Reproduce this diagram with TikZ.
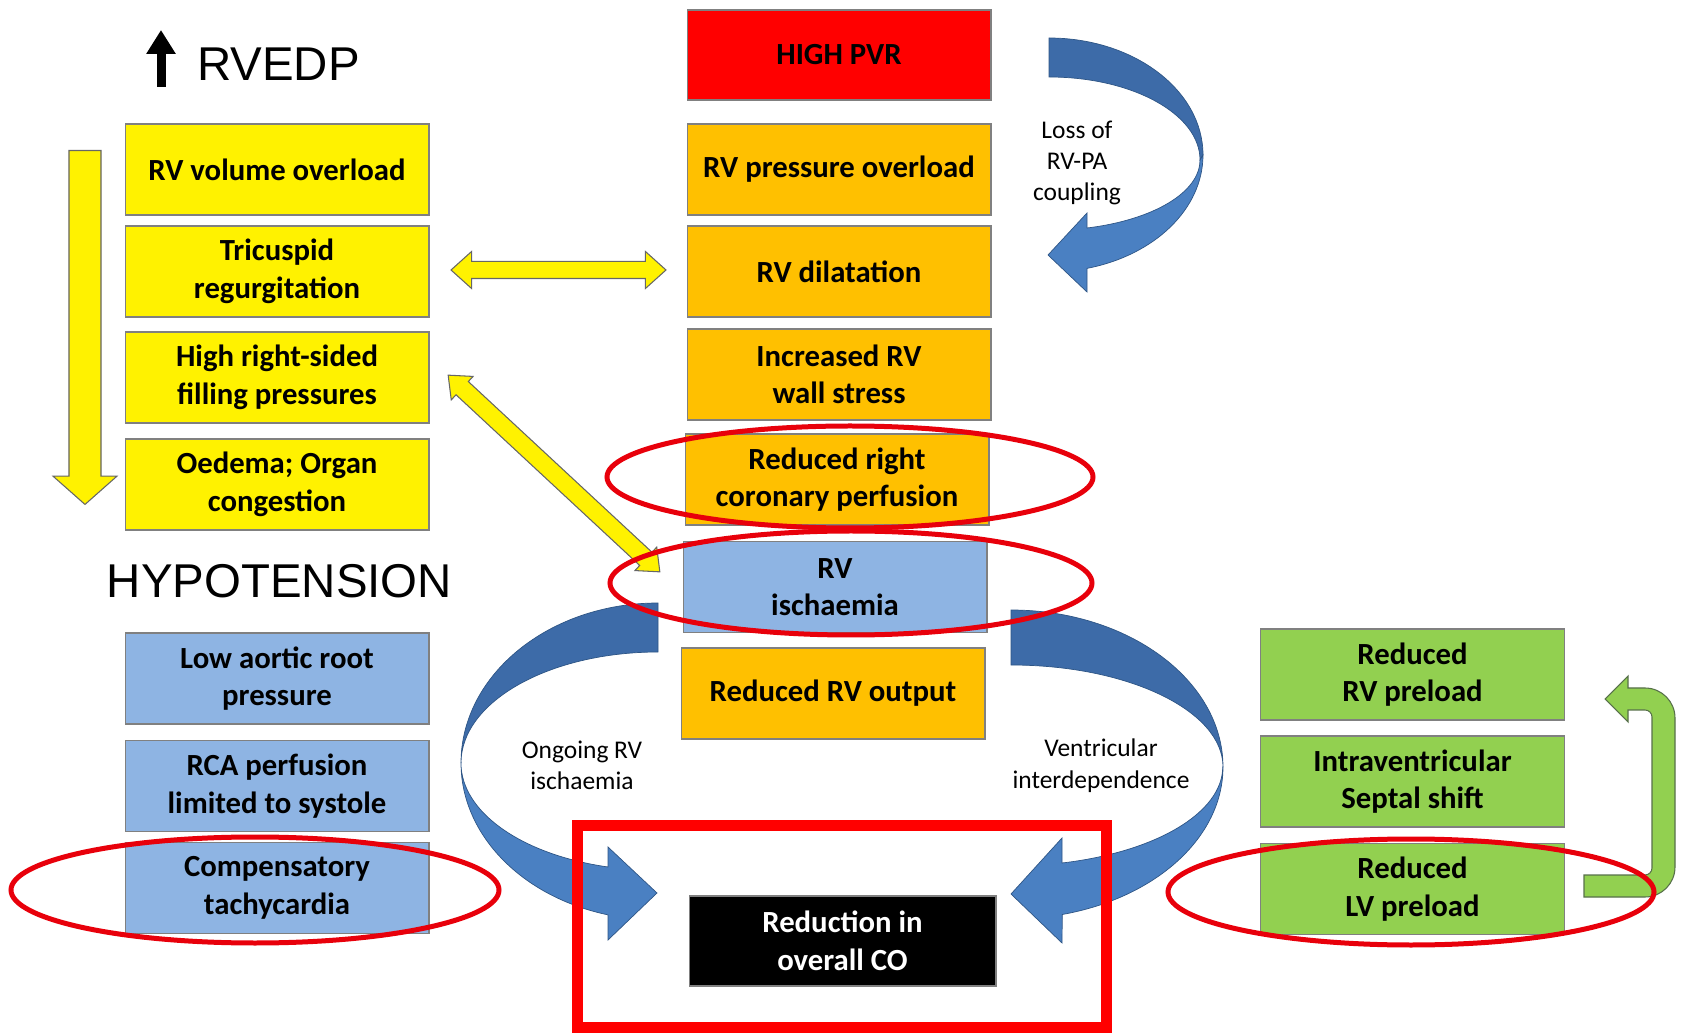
\documentclass[tikz,border=0pt]{standalone}
\usepackage{fontspec}
\setmainfont{Carlito}
\newfontfamily\headfont{Liberation Sans}
\usetikzlibrary{arrows.meta, shapes.arrows}

\definecolor{ambre}{HTML}{FFC000}
\definecolor{paleblue}{HTML}{8EB4E3}
\definecolor{leafgreen}{HTML}{92D050}
\definecolor{leafedge}{HTML}{57704A}
\definecolor{curvedark}{HTML}{3D6BA8}
\definecolor{curvelight}{HTML}{4A80C2}
\definecolor{curveedge}{HTML}{2E5585}
\definecolor{ringred}{HTML}{E8000B}

\tikzset{
  cell/.style={draw=gray, line width=0.6pt, minimum width=6.08cm, minimum height=1.82cm,
    align=center, inner sep=2pt, font=\fontsize{17.5}{21.3}\selectfont\bfseries},
  ybox/.style={cell, fill=yellow},
  obox/.style={cell, fill=ambre},
  bbox/.style={cell, fill=paleblue},
  gbox/.style={cell, fill=leafgreen},
  ring/.style={draw=ringred, line width=0.1cm},
  curvelbl/.style={align=center, font=\fontsize{14.5}{17.9}\selectfont},
  headline/.style={font=\headfont\fontsize{27}{31}\selectfont},
  yarrow/.style={fill=yellow, draw=gray!80!black, line width=0.6pt, inner sep=0pt},
  bandedge/.style={draw=curveedge, line width=0.4pt}
}

\begin{document}
\begin{tikzpicture}[x=0.02cm, y=-0.02cm]
    \useasboundingbox (0,0) rectangle (1681,1033);

    % --- Left column: RVEDP ---
    \node[headline, anchor=west] (rvedp) at (191,64) {RVEDP};
    \coordinate (upfoot) at (161,87);
    \coordinate (uptip) at (161,30);
    \draw[line width=0.18cm, -{Triangle[width=0.56cm, length=0.48cm]}] (upfoot) -- (uptip);

    \node[ybox] (vol)  at (277,169.5) {RV volume overload};
    \node[ybox] (tric) at (277,271.5) {Tricuspid\\regurgitation};
    \node[ybox] (fill) at (277,377.5) {High right-sided\\filling pressures};
    \node[ybox] (oed)  at (277,484.5) {Oedema; Organ\\congestion};

    \node[yarrow, single arrow, rotate=-90, anchor=tail, text height=0.31cm, text depth=0.31cm,
      minimum height=7.08cm, single arrow head extend=0.32cm, single arrow tip angle=97]
      (downarr) at (85,150) {};

    % --- Left column: hypotension ---
    \node[headline] (hypo) at (279.5,581) {HYPOTENSION};
    \node[bbox] (aortic) at (277,678.5) {Low aortic root\\pressure};
    \node[bbox] (rca)    at (277,786)   {RCA perfusion\\limited to systole};
    \node[bbox] (tachy)  at (277,888)   {Compensatory\\tachycardia};

    % --- Centre column ---
    \node[cell, fill=red, minimum height=1.8cm] (pvr) at (839,55) {HIGH PVR};
    \node[obox] (press) at (839,169.5) {RV pressure overload};
    \node[obox] (dilat) at (839,271.5) {RV dilatation};
    \node[obox] (wall)  at (839,374.5) {Increased RV\\wall stress};
    \node[obox] (coron) at (837,479.5) {Reduced right\\coronary perfusion};
    \node[bbox] (isch)  at (835,587)   {RV\\ischaemia};
    \node[obox] (rvout) at (833,693.5) {Reduced RV output};
    \node[cell, fill=black, text=white, minimum width=6.14cm, minimum height=1.8cm]
      (co) at (842.5,941) {Reduction in\\overall CO};

    % --- Right column ---
    \node[gbox] (rvpre)  at (1412.5,674.5) {Reduced\\RV preload};
    \node[gbox] (septal) at (1412.5,781.5) {Intraventricular\\Septal shift};
    \node[gbox] (lvpre)  at (1412.5,889)   {Reduced\\LV preload};

    % --- Yellow double arrows ---
    \node[yarrow, double arrow, text height=0.16cm, text depth=0.16cm, minimum height=4.3cm,
      double arrow head extend=0.2cm, double arrow tip angle=84]
      (tricarr) at (558.5,270) {};
    \node[yarrow, double arrow, rotate=-42.9, text height=0.17cm, text depth=0.17cm,
      minimum height=5.78cm, double arrow head extend=0.14cm, double arrow tip angle=80]
      (diagarr) at (554,473.5) {};

    % --- Loss of RV-PA coupling ---
    \fill[curvedark, bandedge] (1049,38) arc[start angle=-90, end angle=0, x radius=154, y radius=117]
      -- (1200,160) arc[start angle=0, end angle=-90, x radius=151, y radius=83] -- cycle;
    \fill[curvelight, bandedge] (1203,155) arc[start angle=0, end angle=75.7, x radius=154, y radius=117]
      -- (1087,292) -- (1048,255) -- (1087,213) -- (1087,228)
      arc[start angle=75.4, end angle=0, x radius=151, y radius=70] -- cycle;
    \node[curvelbl] (coupling) at (1077,163) {Loss of\\RV-PA\\coupling};

    % --- Ongoing RV ischaemia ---
    \fill[curvedark, bandedge] (658,603) arc[start angle=-90, end angle=-180, x radius=197, y radius=160]
      arc[start angle=180, end angle=270, x radius=197, y radius=111] -- cycle;
    \fill[curvelight, bandedge] (461,763) arc[start angle=180, end angle=104.7, x radius=197, y radius=157]
      -- (608,940) -- (657,893) -- (608,847) -- (608,867)
      arc[start angle=104.7, end angle=180, x radius=197, y radius=107.5] -- cycle;
    \node[curvelbl] (ongoing) at (582,765.5) {Ongoing RV\\ischaemia};

    % --- Ventricular interdependence ---
    \fill[curvedark, bandedge] (1011,610) arc[start angle=-90, end angle=0, x radius=212, y radius=157]
      arc[start angle=0, end angle=-90, x radius=212, y radius=102] -- cycle;
    \fill[curvelight, bandedge] (1223,767) arc[start angle=0, end angle=76, x radius=212, y radius=152]
      -- (1062,943) -- (1011,894) -- (1062,838) -- (1062,863)
      arc[start angle=76, end angle=0, x radius=212, y radius=99] -- cycle;
    \node[curvelbl] (interdep) at (1101,765.5) {Ventricular\\interdependence};

    % --- Green return arrow ---
    \filldraw[fill=leafgreen, draw=leafedge, line width=0.6pt] (1584,897) -- (1645,897)
      arc[start angle=90, end angle=0, radius=30] -- (1675,718)
      arc[start angle=0, end angle=-90, radius=30] -- (1628,688) -- (1628,676) -- (1605,699)
      -- (1628,722) -- (1628,710) -- (1645,710) arc[start angle=-90, end angle=0, radius=7]
      -- (1652,868) arc[start angle=0, end angle=90, radius=7] -- (1584,875) -- cycle;

    % --- Red highlights ---
    \draw[ring] (850,477) ellipse[x radius=243, y radius=51];
    \draw[ring] (851,583) ellipse[x radius=241, y radius=52];
    \draw[ring] (255,890) ellipse[x radius=244, y radius=53];
    \draw[ring] (1411,892) ellipse[x radius=243, y radius=53];
    \draw[red, line width=0.22cm] (577.5,825.5) rectangle (1106,1027.5);
  \end{tikzpicture}
\end{document}
